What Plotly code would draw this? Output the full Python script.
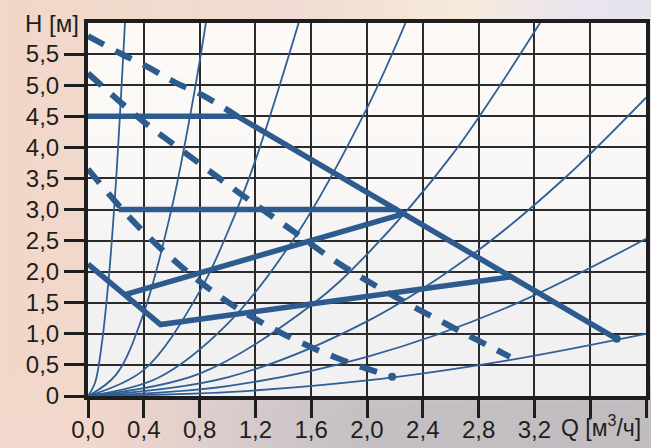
import base64
import struct
import zlib

import numpy as np
import plotly.graph_objects as go

# ---- axis ticks -------------------------------------------------------------
q_ticks = [0.0, 0.4, 0.8, 1.2, 1.6, 2.0, 2.4, 2.8, 3.2]
q_labels = ["0,0", "0,4", "0,8", "1,2", "1,6", "2,0", "2,4", "2,8", "3,2"]
q_extra_ticks = [3.6, 4.0]
h_ticks = [0.0, 0.5, 1.0, 1.5, 2.0, 2.5, 3.0, 3.5, 4.0, 4.5, 5.0, 5.5]
h_labels = ["0", "0,5", "1,0", "1,5", "2,0", "2,5", "3,0", "3,5", "4,0", "4,5", "5,0", "5,5"]

# ---- system characteristics (thin curves from the origin) ------------------
sys_a_q = [0.0, 0.05, 0.10, 0.15, 0.20, 0.265]
sys_a_h = [0.0, 0.21, 0.86, 1.93, 3.43, 6.0]
sys_b_q = [0.0, 0.20, 0.40, 0.60, 0.75, 0.845]
sys_b_h = [0.0, 0.34, 1.34, 3.02, 4.73, 6.0]
sys_c_q = [0.0, 0.40, 0.80, 1.00, 1.20, 1.51]
sys_c_h = [0.0, 0.42, 1.68, 2.63, 3.79, 6.0]
sys_d_q = [0.0, 0.50, 1.00, 1.50, 2.00, 2.276]
sys_d_h = [0.0, 0.29, 1.16, 2.61, 4.63, 6.0]
sys_e_q = [0.0, 0.80, 1.60, 2.00, 2.60, 3.24]
sys_e_h = [0.0, 0.36, 1.46, 2.28, 3.85, 6.0]
sys_f_q = [0.0, 1.00, 2.00, 2.80, 3.40, 4.0]
sys_f_h = [0.0, 0.30, 1.20, 2.35, 3.47, 4.80]
sys_g_q = [0.0, 1.00, 2.00, 3.00, 4.0]
sys_g_h = [0.0, 0.16, 0.63, 1.42, 2.53]
sys_h_q = [0.0, 1.00, 2.00, 3.00, 4.0]
sys_h_h = [0.0, 0.063, 0.25, 0.57, 1.0]

# ---- pump control curves (solid) --------------------------------------------
max_q = [0.0, 1.07, 3.79]
max_h = [4.5, 4.5, 0.92]
const_q = [0.22, 2.22]
const_h = [3.0, 3.0]
prop_high_q = [0.265, 2.26]
prop_high_h = [1.63, 2.93]
prop_low_q = [0.0, 0.52, 3.04]
prop_low_h = [2.12, 1.15, 1.92]

# ---- speed stage curves (dashed) -------------------------------------------
stage3_q = [0.0, 0.215, 0.43, 0.62, 0.82, 1.07]
stage3_h = [5.79, 5.53, 5.29, 5.05, 4.84, 4.5]
stage2_q = [0.0, 0.378, 0.733, 1.088, 1.434, 1.807, 2.19, 2.575, 3.025]
stage2_h = [5.19, 4.45, 3.85, 3.26, 2.71, 2.12, 1.61, 1.15, 0.63]
stage1_q = [0.0, 0.32, 0.659, 1.01, 1.38, 1.785, 2.18]
stage1_h = [3.65, 2.82, 2.10, 1.50, 1.02, 0.61, 0.31]

# end points marked with a dot
dot_q = [3.79, 2.18]
dot_h = [0.92, 0.31]

BLUE = "#2e5b8e"
THIN = "#2f5f95"
INK = "#1e1e1e"
GRID = "#2b2b2b"
FONT = "Liberation Sans, Arial, sans-serif"
FS = 24

W, H = 651, 448
ML, MR, MT, MB = 88, 5, 23, 52
PW, PH = W - ML - MR, H - MT - MB


def png_uri(arr):
    arr = np.clip(arr, 0, 255).astype(np.uint8)
    h, w, _ = arr.shape
    raw = b"".join(b"\x00" + arr[r].tobytes() for r in range(h))

    def chunk(tag, data):
        c = struct.pack(">I", len(data)) + tag + data
        return c + struct.pack(">I", zlib.crc32(tag + data) & 0xFFFFFFFF)

    png = b"\x89PNG\r\n\x1a\n"
    png += chunk(b"IHDR", struct.pack(">IIBBBBB", w, h, 8, 2, 0, 0, 0))
    png += chunk(b"IDAT", zlib.compress(raw, 9))
    png += chunk(b"IEND", b"")
    return "data:image/png;base64," + base64.b64encode(png).decode()


def ramp(stops, t):
    pos = np.array([s[0] for s in stops])
    cols = np.array([s[1] for s in stops], dtype=float)
    return np.stack([np.interp(t, pos, cols[:, i]) for i in range(3)], axis=-1)


# page backdrop: peach on the left, cream/lavender at the top, grey at the bottom
gw, gh = 66, 45
u = np.linspace(0, 1, gw)
v = np.linspace(0, 1, gh)
top = ramp([(0, (243, 215, 201)), (0.45, (240, 221, 211)), (0.72, (247, 235, 220)),
            (0.9, (234, 229, 240)), (1, (232, 228, 238))], u)
bot = ramp([(0, (243, 217, 204)), (0.14, (242, 215, 204)), (0.25, (231, 211, 205)),
            (0.4, (212, 202, 204)), (0.55, (198, 193, 196)), (1, (192, 188, 192))], u)
s = np.clip((v - 0.80) / 0.12, 0, 1)
s = s * s * (3 - 2 * s)
page = top[None, :, :] * (1 - s[:, None, None]) + bot[None, :, :] * s[:, None, None]

# plot area: warm white fading to light grey
pv = np.linspace(0, 1, 40)
pcol = ramp([(0, (253, 250, 246)), (0.45, (250, 248, 246)), (0.7, (242, 242, 243)),
             (1, (241, 241, 242))], pv)
plot_bg = np.repeat(pcol[:, None, :], 8, axis=1)

fig = go.Figure()


def add_line(q, h, color, width, dash="solid", shape="linear"):
    fig.add_trace(go.Scatter(x=q, y=h, mode="lines", hoverinfo="skip",
                             line=dict(color=color, width=width, dash=dash, shape=shape)))


for q, h in [(sys_a_q, sys_a_h), (sys_b_q, sys_b_h), (sys_c_q, sys_c_h), (sys_d_q, sys_d_h),
             (sys_e_q, sys_e_h), (sys_f_q, sys_f_h), (sys_g_q, sys_g_h), (sys_h_q, sys_h_h)]:
    add_line(q, h, THIN, 1.8, shape="spline")

for q, h in [(max_q, max_h), (const_q, const_h), (prop_high_q, prop_high_h),
             (prop_low_q, prop_low_h)]:
    add_line(q, h, BLUE, 5.5)

for q, h in [(stage3_q, stage3_h), (stage2_q, stage2_h), (stage1_q, stage1_h)]:
    add_line(q, h, BLUE, 6, dash="18px,13px", shape="spline")

fig.add_trace(go.Scatter(x=dot_q, y=dot_h, mode="markers", hoverinfo="skip",
                         marker=dict(color=BLUE, size=8)))

fig.update_layout(
    width=W, height=H, autosize=False,
    margin=dict(l=ML, r=MR, t=MT, b=MB, pad=0, autoexpand=False),
    paper_bgcolor="#f0ddd3",
    plot_bgcolor="rgba(0,0,0,0)",
    showlegend=False,
    font=dict(family=FONT, size=FS, color=INK),
    images=[
        dict(source=png_uri(page), xref="paper", yref="paper",
             x=-ML / PW, y=1 + MT / PH, sizex=W / PW, sizey=H / PH,
             xanchor="left", yanchor="top", sizing="stretch", layer="below"),
        dict(source=png_uri(plot_bg), xref="paper", yref="paper",
             x=0, y=1, sizex=1, sizey=1,
             xanchor="left", yanchor="top", sizing="stretch", layer="below"),
    ],
)

fig.update_xaxes(
    range=[0, 4.0], tickmode="array", tickvals=q_ticks, ticktext=q_labels,
    showgrid=True, gridcolor=GRID, gridwidth=2,
    showline=True, linecolor=INK, linewidth=4, mirror=True,
    ticks="outside", ticklen=18, tickwidth=3, tickcolor=INK,
    ticklabelstandoff=-9,
    minor=dict(tickmode="array", tickvals=q_extra_ticks, ticks="outside", ticklen=18,
               tickwidth=3, tickcolor=INK, showgrid=True, gridcolor=GRID, gridwidth=2),
    zeroline=False, fixedrange=True, automargin=False,
    tickfont=dict(family=FONT, size=FS, color=INK),
)
fig.update_yaxes(
    range=[0, 6.0], tickmode="array", tickvals=h_ticks, ticktext=h_labels,
    showgrid=True, gridcolor=GRID, gridwidth=2,
    showline=True, linecolor=INK, linewidth=4, mirror=True,
    ticks="outside", ticklen=20, tickwidth=3, tickcolor=INK,
    zeroline=False, fixedrange=True, automargin=False,
    tickfont=dict(family=FONT, size=FS, color=INK),
)

fig.add_annotation(text="H [м]", xref="paper", yref="paper", x=0, y=1,
                   xanchor="right", yanchor="middle", xshift=-7, showarrow=False,
                   font=dict(family=FONT, size=FS, color=INK))
fig.add_annotation(text="Q [м<sup>3</sup>/ч]", xref="x", yref="paper", x=3.38, y=0,
                   xanchor="left", yanchor="top", yshift=-14, showarrow=False,
                   borderpad=0, font=dict(family=FONT, size=23, color=INK))

fig.write_html("out.html")
